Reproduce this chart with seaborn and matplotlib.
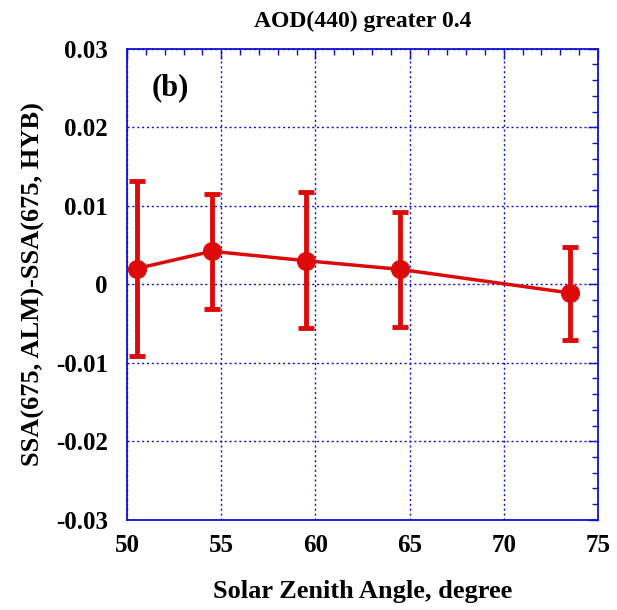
import numpy as np
import pandas as pd
import seaborn as sns
from matplotlib import pyplot as plt
from matplotlib.ticker import MultipleLocator, FuncFormatter

# Solar zenith angle bins and SSA differences
sza = [50.5, 54.5, 59.5, 64.5, 73.5]
ssa_diff = [0.0020, 0.0042, 0.0030, 0.0019, -0.0011]
err_upper = [0.0132, 0.0115, 0.0117, 0.0092, 0.0048]
err_lower = [-0.0091, -0.0032, -0.0056, -0.0055, -0.0071]

df = pd.DataFrame({"sza": sza, "diff": ssa_diff})
yerr = np.array([np.array(ssa_diff) - np.array(err_lower),
                 np.array(err_upper) - np.array(ssa_diff)])

sns.set_style("white")
plt.rcParams['font.family'] = ['Liberation Serif', 'DejaVu Serif']
plt.rcParams['font.weight'] = 'bold'
plt.rcParams['text.color'] = 'black'
plt.rcParams['axes.labelcolor'] = 'black'
plt.rcParams['xtick.color'] = 'black'
plt.rcParams['ytick.color'] = 'black'

red = '#dd0a0a'
blue = '#1010d0'

fig = plt.figure(figsize=(6.17, 6.10), dpi=100)
ax = fig.add_axes([0.206, 0.148, 0.763, 0.772])

ax.errorbar(sza, ssa_diff, yerr=yerr, fmt='none', ecolor=red,
            elinewidth=3.5, capsize=6, capthick=3.5, zorder=3)
sns.lineplot(data=df, x='sza', y='diff', color=red, linewidth=2.5,
             marker='o', markersize=13, markeredgecolor=red, ax=ax, zorder=4)

ax.set_xlim(50, 75)
ax.set_ylim(-0.03, 0.03)
ax.xaxis.set_major_locator(MultipleLocator(5))
ax.xaxis.set_minor_locator(MultipleLocator(1))
ax.yaxis.set_major_locator(MultipleLocator(0.01))
ax.yaxis.set_minor_locator(MultipleLocator(0.002))
ax.yaxis.set_major_formatter(FuncFormatter(lambda v, p: '0' if abs(v) < 1e-9 else f'{v:.2f}'))

ax.grid(True, which='major', color=blue, linestyle=(0, (1.5, 2)), linewidth=1)
ax.tick_params(which='both', direction='in', top=True, right=True, color=blue,
               labelsize=18, labelcolor='black')
ax.tick_params(which='major', length=7, width=1)
ax.tick_params(which='minor', length=4, width=1)
ax.tick_params(axis='x', pad=10)
ax.tick_params(axis='y', pad=14)
for s in ax.spines.values():
    s.set_color(blue)
    s.set_linewidth(1.3)

ax.set_xlabel('Solar Zenith Angle, degree', fontsize=19, fontweight='bold', labelpad=17)
ax.set_ylabel('SSA(675, ALM)-SSA(675, HYB)', fontsize=19, fontweight='bold', labelpad=8)
ax.set_title('AOD(440) greater 0.4', fontsize=17, fontweight='bold', pad=16)
ax.text(51.3, 0.025, '(b)', fontsize=22, fontweight='bold', va='center')

fig.savefig('out.png', dpi=100)
